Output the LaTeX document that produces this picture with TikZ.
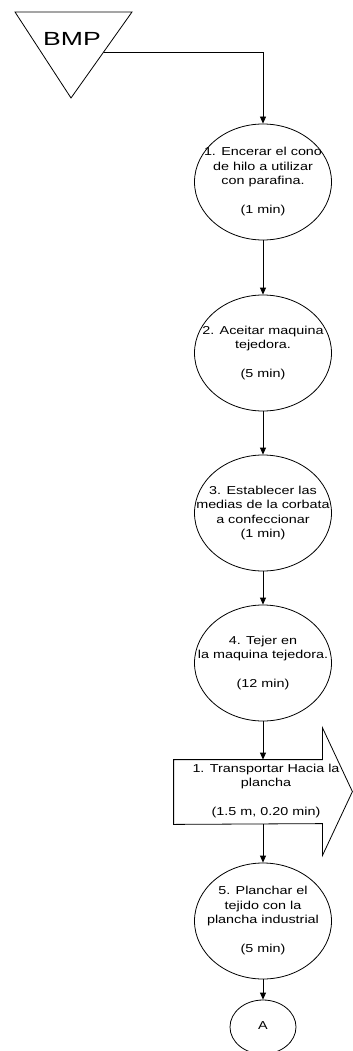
\documentclass[tikz,border=0pt]{standalone}
\usepackage{fontspec}
\setmainfont{Liberation Sans}
\usetikzlibrary{shapes.geometric,arrows.meta}
\newcommand{\wtxt}[2][1.25]{\scalebox{#1}[1]{\begin{tabular}{@{}c@{}}#2\end{tabular}}}

\begin{document}
\begin{tikzpicture}[x=1pt,y=-1pt,line width=0.8pt,
  op/.style={draw,ellipse,minimum width=137pt,minimum height=116pt,inner sep=0pt},
  txt/.style={font=\fontsize{11.5}{14.5}\selectfont,inner sep=0pt},
  flow/.style={-{Triangle[width=6pt,length=7pt]}}]
\useasboundingbox (0,0) rectangle (353,1051);
\tikzstyle{every node}+=[inner sep=0pt]

% storage triangle
\draw (15,12) -- (132,12) -- (71,98) -- cycle;
\node[font=\fontsize{19}{19}\selectfont] (bmp) at (72,39) {\scalebox{1.4}[1]{BMP}};
\coordinate (bmpout) at (104,52);

% operations
\node[op] (c1) at (263,182) {};
\node[txt] (c1t) at (c1) {\wtxt{1. Encerar el cono\\de hilo a utilizar\\con parafina.\\ \\(1 min)}};
\node[op] (c2) at (263,353) {};
\node[txt] (c2t) at (c2) {\wtxt{2. Aceitar maquina\\tejedora.\\ \\(5 min)}};
\node[op] (c3) at (263,513) {};
\node[txt] (c3t) at (c3) {\wtxt{3. Establecer las\\medias de la corbata\\a confeccionar\\(1 min)}};
\node[op] (c4) at (263,663) {};
\node[txt] (c4t) at (c4) {\wtxt{4. Tejer en\\la maquina tejedora.\\ \\(12 min)}};

% transport
\node[minimum width=148pt,minimum height=64pt] (tr) at (248,792) {};
\draw (tr.north east) -- ++(0,-32) -- ++(30,64) -- ++(-30,64) -- ++(0,-32)
  -- (tr.south west) -- (tr.north west) -- cycle;
\node[txt] (trt) at (266,791) {\wtxt{1. Transportar Hacia la\\plancha\\ \\(1.5 m, 0.20 min)}};

\node[op] (c5) at (263,921) {};
\node[txt] (c5t) at (c5) {\wtxt{5. Planchar el\\tejido con la\\plancha industrial\\ \\(5 min)}};

% connector
\node[draw,ellipse,minimum width=66pt,minimum height=54pt] (a) at (263,1027) {};
\node[txt] (at) at (a) {\wtxt{A}};

\draw[flow] (bmpout) -| (c1);
\draw[flow] (c1) -- (c2);
\draw[flow] (c2) -- (c3);
\draw[flow] (c3) -- (c4);
\draw[flow] (c4) -- (c4 |- tr.north);
\draw[flow] (tr.south -| c5) -- (c5);
\draw[flow] (c5) -- (a);
\end{tikzpicture}
\end{document}
